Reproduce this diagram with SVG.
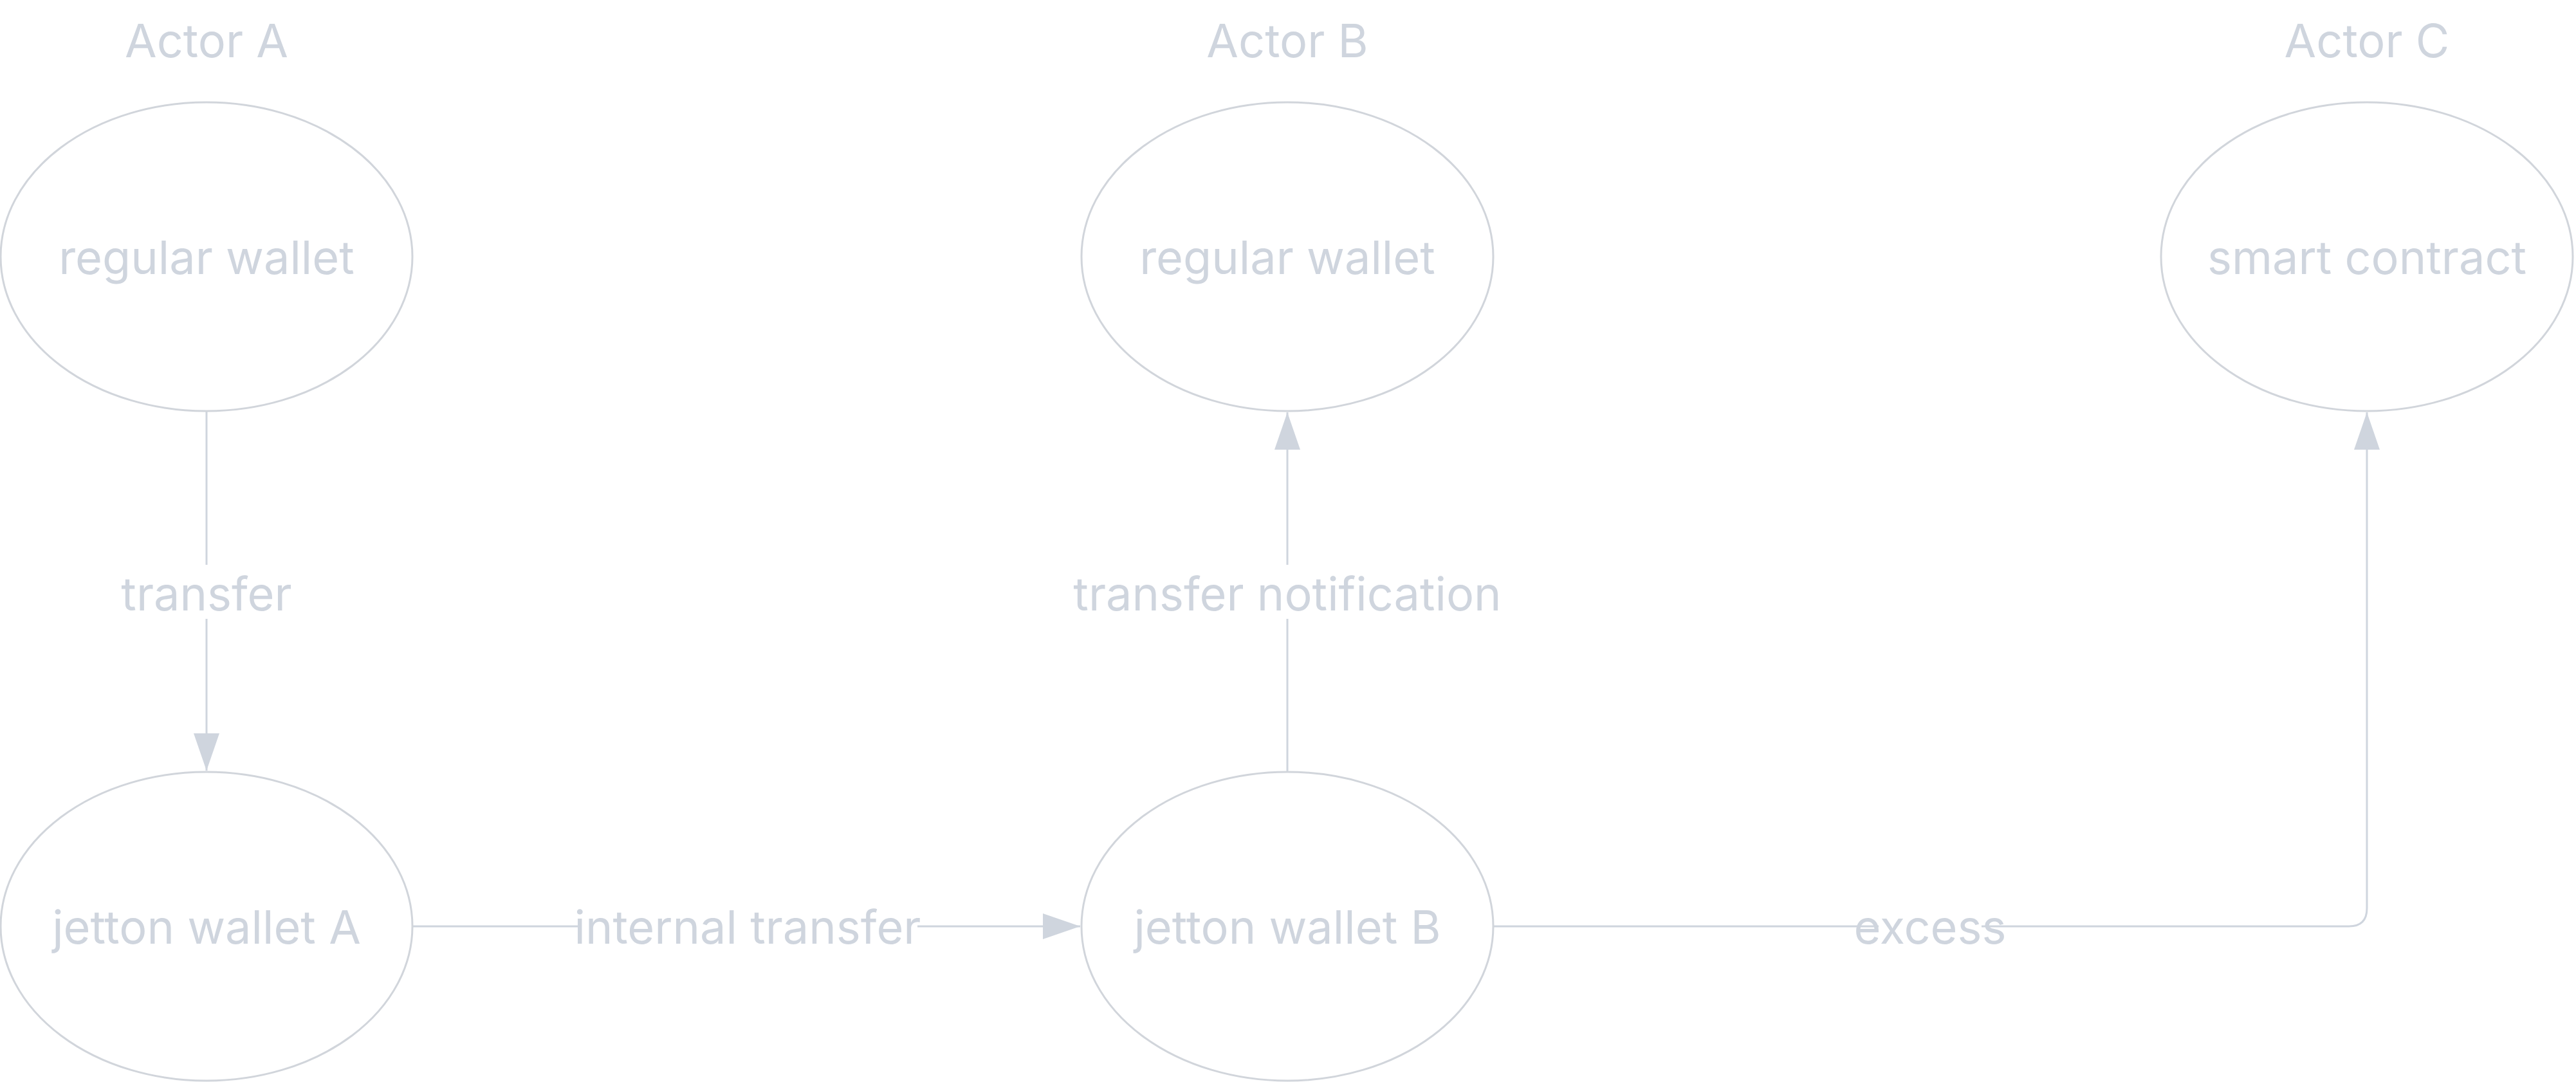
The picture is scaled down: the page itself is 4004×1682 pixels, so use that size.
<svg xmlns="http://www.w3.org/2000/svg" width="4004" height="1682" viewBox="0 0 4004 1682">
<style>
.n{fill:none;stroke:#d1d5db;stroke-width:3}
.t{font-family:Inter,"Liberation Sans",sans-serif;font-size:72px;fill:#cfd5de;text-anchor:middle;dominant-baseline:central}
.c{fill:none;stroke:#cfd5de;stroke-width:3}
.bg{fill:#fff}
</style>
<defs>
<marker id="b" viewBox="0 0 58 40" refX="58" refY="20" markerWidth="58" markerHeight="40" markerUnits="userSpaceOnUse" orient="auto"><path d="M0,0L58,20L0,40Z" fill="#cfd5de"/></marker></defs>
<text class="t" x="321" y="62">Actor A</text>
<text class="t" x="2001" y="62">Actor B</text>
<text class="t" x="3679" y="62">Actor C</text>
<g id="edges">
<path class="c" d="M321,639V1198" marker-end="url(#b)"/>
<path class="c" d="M2001,1200V641" marker-end="url(#b)"/>
<path class="c" d="M641,1440H1679" marker-end="url(#b)"/>
<path class="c" d="M2321,1440H3651Q3679,1440 3679,1412V641" marker-end="url(#b)"/>
<rect class="bg" x="180" y="878" width="282" height="84"/>
<text class="t" x="321" y="922">transfer</text>
<rect class="bg" x="1670" y="878" width="662" height="84"/>
<text class="t" x="2001" y="922">transfer notification</text>
<rect class="bg" x="898" y="1398" width="528" height="84"/>
<text class="t" x="1162" y="1440">internal transfer</text>
<rect class="bg" x="2920" y="1398" width="160" height="84"/>
<text class="t" x="3000" y="1440">excess</text>
</g>
<g id="n1"><ellipse class="n" cx="321" cy="399" rx="320" ry="240"/><text class="t" x="321" y="399">regular wallet</text></g>
<g id="n2"><ellipse class="n" cx="2001" cy="399" rx="320" ry="240"/><text class="t" x="2001" y="399">regular wallet</text></g>
<g id="n3"><ellipse class="n" cx="3679" cy="399" rx="320" ry="240"/><text class="t" x="3679" y="399">smart contract</text></g>
<g id="n4"><ellipse class="n" cx="321" cy="1440" rx="320" ry="240"/><text class="t" x="321" y="1440">jetton wallet A</text></g>
<g id="n5"><ellipse class="n" cx="2001" cy="1440" rx="320" ry="240"/><text class="t" x="2001" y="1440">jetton wallet B</text></g>
</svg>
